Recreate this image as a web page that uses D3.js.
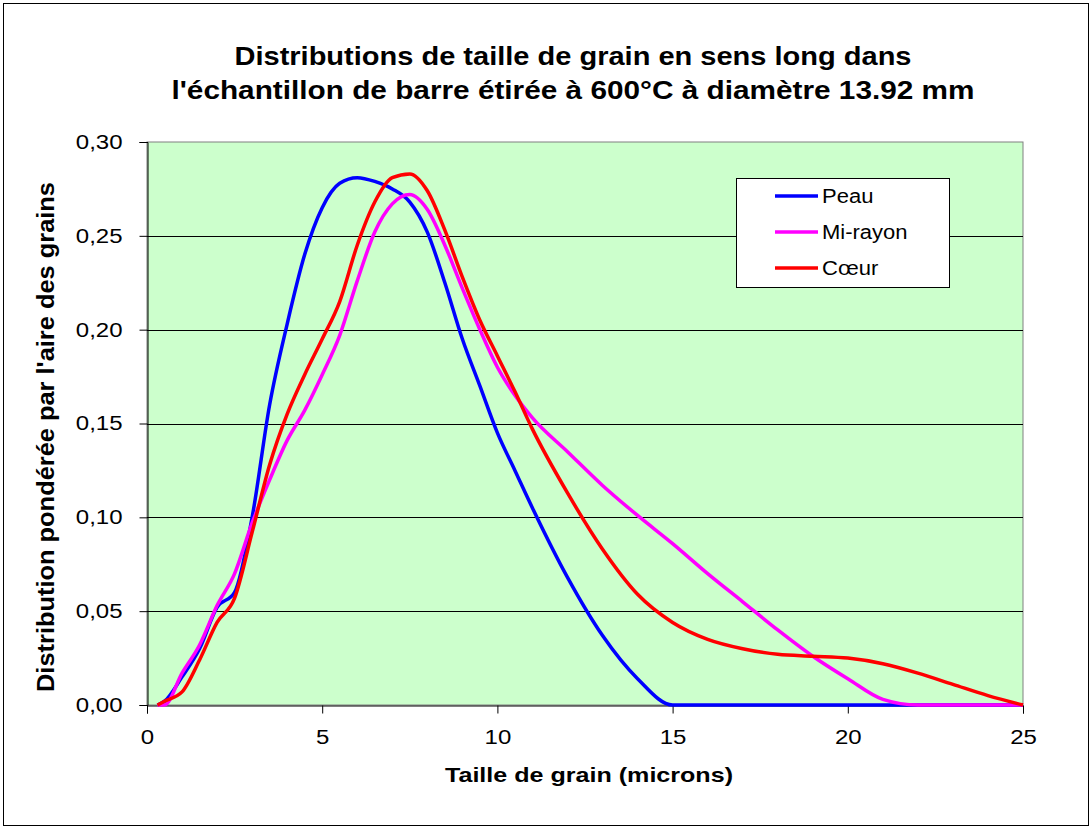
<!DOCTYPE html>
<html>
<head>
<meta charset="utf-8">
<script src="https://cdn.jsdelivr.net/npm/d3@7"></script>
<style>
  body { margin: 0; background: #fff; }
  text { font-family: "Liberation Sans", Arial, sans-serif; }
</style>
</head>
<body>
<div id="vis"></div>
<script>
// Données -------------------------------------------------------------------------
const TAILLES = [0.3, 0.5, 1, 1.5, 2, 2.5, 3, 3.5, 4, 4.5, 5, 5.5, 6, 6.5, 7, 7.5, 8, 8.5, 9, 9.5,
                 10, 10.5, 11, 12, 13, 14, 15, 16, 17, 18, 19, 20, 21, 22, 23, 24, 25];

const PEAU = [0, 0.002, 0.015, 0.030, 0.052, 0.060, 0.100, 0.160, 0.203, 0.240, 0.265, 0.278, 0.281, 0.279, 0.275, 0.268, 0.252, 0.225, 0.195, 0.170,
              0.145, 0.125, 0.105, 0.068, 0.037, 0.014, 0, 0, 0, 0, 0, 0, 0, 0, 0, 0, 0];

const MI_RAYON = [0, 0, 0.017, 0.032, 0.053, 0.070, 0.097, 0.120, 0.141, 0.157, 0.176, 0.197, 0.226, 0.252, 0.267, 0.272, 0.264, 0.245, 0.222, 0.200,
                  0.180, 0.165, 0.153, 0.135, 0.117, 0.101, 0.086, 0.070, 0.055, 0.040, 0.026, 0.014, 0.003, 0, 0, 0, 0];

const COEUR = [0, 0.002, 0.007, 0.024, 0.044, 0.057, 0.092, 0.128, 0.155, 0.176, 0.195, 0.215, 0.245, 0.268, 0.281, 0.283, 0.274, 0.253, 0.228, 0.205,
               0.186, 0.167, 0.147, 0.113, 0.083, 0.059, 0.044, 0.035, 0.030, 0.027, 0.026, 0.025, 0.022, 0.017, 0.011, 0.005, 0];

const SERIES = ["Peau", "Mi-rayon", "Cœur"];
const COULEURS = ["#0000ff", "#ff00ff", "#ff0000"];
const TICKS_X = [0, 5, 10, 15, 20, 25];
const TICKS_Y = [0, 0.05, 0.10, 0.15, 0.20, 0.25, 0.30];

// Dimensions ------------------------------------------------------------------------
const WIDTH = 1092;
const HEIGHT = 829;
const MARGIN = { left: 147, right: 1023, top: 142, bottom: 705 };

const SVG = d3.select("#vis").append("svg")
    .attr("width", WIDTH)
    .attr("height", HEIGHT);

// le texte de l'original est un peu étiré en largeur
function etirer(sel, k) {
    sel.each(function () {
        const l = this.getComputedTextLength();
        d3.select(this).attr("textLength", l * k).attr("lengthAdjust", "spacingAndGlyphs");
    });
}

// cadre du graphique
SVG.append("rect")
    .attr("x", 3.5).attr("y", 3.5)
    .attr("width", WIDTH - 7).attr("height", HEIGHT - 7)
    .attr("fill", "#fff")
    .attr("stroke", "#000")
    .attr("stroke-width", 1);

const x = d3.scaleLinear().domain([0, 25]).range([MARGIN.left, MARGIN.right]);
const y = d3.scaleLinear().domain([0, 0.30]).range([MARGIN.bottom, MARGIN.top]);

// zone de tracé
SVG.append("rect")
    .attr("x", MARGIN.left).attr("y", MARGIN.top)
    .attr("width", MARGIN.right - MARGIN.left)
    .attr("height", MARGIN.bottom - MARGIN.top)
    .attr("fill", "#ccffcc")
    .attr("stroke", "#808080")
    .attr("stroke-width", 1);

// grille horizontale
SVG.selectAll("line.grille")
    .data(TICKS_Y.slice(1, -1))
    .enter()
    .append("line")
    .attr("class", "grille")
    .attr("x1", MARGIN.left).attr("x2", MARGIN.right)
    .attr("y1", d => Math.round(y(d)) + 0.5)
    .attr("y2", d => Math.round(y(d)) + 0.5)
    .attr("stroke", "#000")
    .attr("stroke-width", 1);

// axes
const fr = d3.formatLocale({ decimal: ",", thousands: " ", grouping: [3], currency: ["", " €"] });

const axeY = SVG.append("g")
    .attr("transform", `translate(${MARGIN.left + 0.5},0)`)
    .call(d3.axisLeft(y).tickValues(TICKS_Y).tickFormat(fr.format(".2f")).tickSize(8).tickPadding(17));

const axeX = SVG.append("g")
    .attr("transform", `translate(0,${MARGIN.bottom + 0.5})`)
    .call(d3.axisBottom(x).tickValues(TICKS_X).tickFormat(d3.format("d")).tickSize(8).tickPadding(16));

[axeY, axeX].forEach(g => {
    g.select(".domain").attr("stroke", "#000");
    g.selectAll(".tick line").attr("stroke", "#000");
    g.selectAll("text")
        .style("font-family", "'Liberation Sans', Arial, sans-serif")
        .style("font-size", "20px")
        .attr("fill", "#000")
        .call(etirer, 1.2);
});

// courbes
const ligne = d3.line()
    .x(d => x(d[0]))
    .y(d => y(d[1]))
    .curve(d3.curveMonotoneX);

const donnees = [PEAU, MI_RAYON, COEUR].map(v => TAILLES.map((t, i) => [t, v[i]]));

SVG.selectAll("path.courbe")
    .data(donnees)
    .enter()
    .append("path")
    .attr("class", "courbe")
    .attr("d", ligne)
    .attr("fill", "none")
    .attr("stroke", (d, i) => COULEURS[i])
    .attr("stroke-width", 3.5)
    .attr("stroke-linejoin", "round");

// légende
const LEG_X = 736;
const LEG_Y = 178;
SVG.append("rect")
    .attr("x", LEG_X + 0.5).attr("y", LEG_Y + 0.5)
    .attr("width", 213).attr("height", 109)
    .attr("fill", "#fff")
    .attr("stroke", "#000")
    .attr("stroke-width", 1);

const leg = SVG.selectAll("g.legende")
    .data(SERIES)
    .enter()
    .append("g")
    .attr("class", "legende")
    .attr("transform", (d, i) => `translate(${LEG_X}, ${LEG_Y + 18 + i * 36})`);

leg.append("line")
    .attr("x1", 39).attr("x2", 82)
    .attr("y1", 0).attr("y2", 0)
    .attr("stroke", (d, i) => COULEURS[i])
    .attr("stroke-width", 3.5);

leg.append("text")
    .attr("x", 86)
    .attr("y", 7)
    .style("font-size", "20px")
    .text(d => d)
    .call(etirer, 1.1);

// titres
SVG.append("text")
    .attr("x", 573).attr("y", 65)
    .attr("text-anchor", "middle")
    .attr("textLength", 677).attr("lengthAdjust", "spacingAndGlyphs")
    .style("font-size", "25px").style("font-weight", "bold")
    .text("Distributions de taille de grain en sens long dans");

SVG.append("text")
    .attr("x", 573).attr("y", 99)
    .attr("text-anchor", "middle")
    .attr("textLength", 803).attr("lengthAdjust", "spacingAndGlyphs")
    .style("font-size", "25px").style("font-weight", "bold")
    .text("l'échantillon de barre étirée à 600°C à diamètre 13.92 mm");

SVG.append("text")
    .attr("x", 589).attr("y", 782)
    .attr("text-anchor", "middle")
    .attr("textLength", 288).attr("lengthAdjust", "spacingAndGlyphs")
    .style("font-size", "21px").style("font-weight", "bold")
    .text("Taille de grain (microns)");

SVG.append("text")
    .attr("transform", "translate(54,437) rotate(-90)")
    .attr("text-anchor", "middle")
    .attr("textLength", 510).attr("lengthAdjust", "spacingAndGlyphs")
    .style("font-size", "24px").style("font-weight", "bold")
    .text("Distribution pondérée par l'aire des grains");
</script>
</body>
</html>
